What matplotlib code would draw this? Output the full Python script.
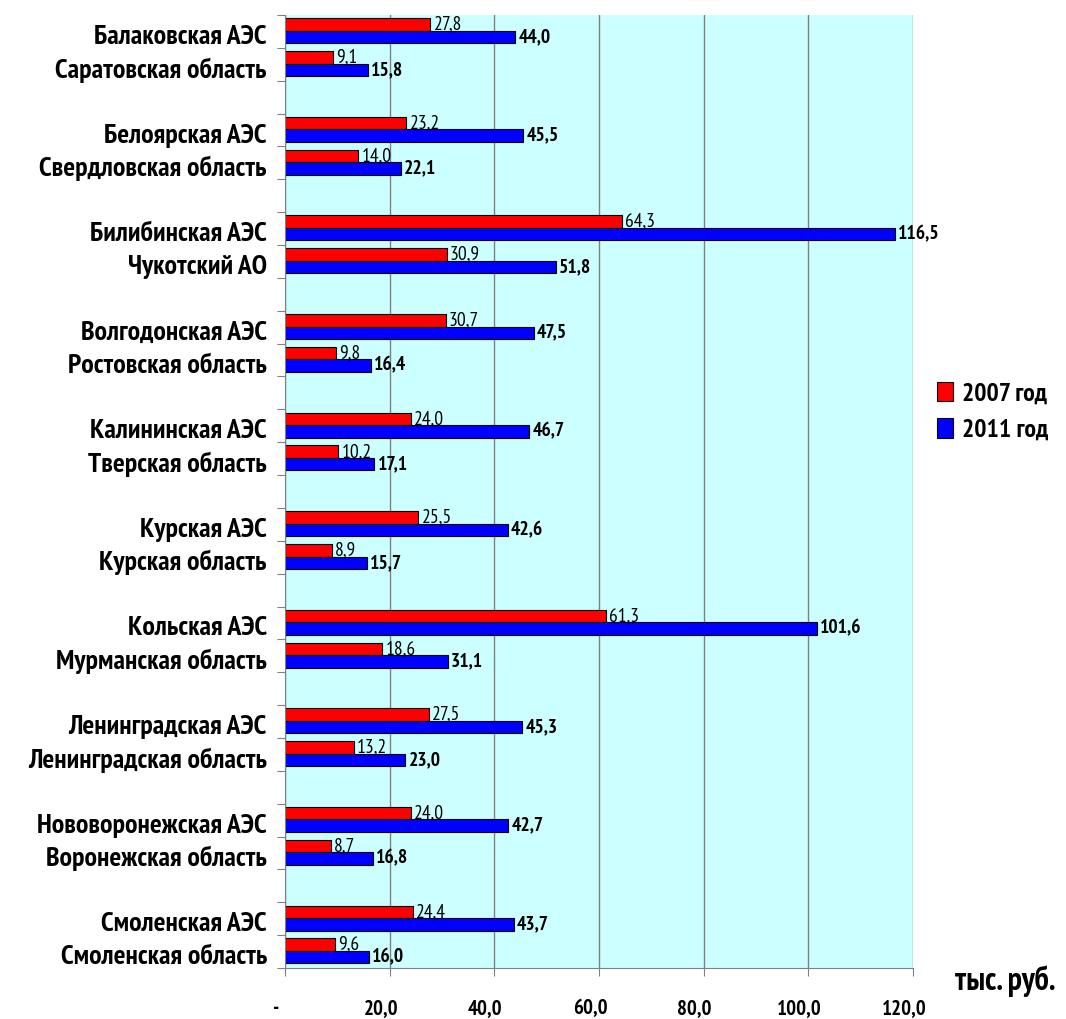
import matplotlib
matplotlib.use("Agg")
import matplotlib.pyplot as plt
import matplotlib.transforms as mtransforms
from matplotlib.patches import Patch
from matplotlib import font_manager

names = {f.name for f in font_manager.fontManager.ttflist}
FAM = ['DejaVu Sans']
for cand in ['PT Sans Narrow', 'Roboto Condensed', 'Open Sans Condensed', 'Liberation Sans Narrow']:
    if cand in names:
        FAM = [cand, 'DejaVu Sans']
        break
plt.rcParams['font.family'] = FAM

categories = [
    "Балаковская АЭС", "Саратовская область",
    "Белоярская АЭС", "Свердловская область",
    "Билибинская АЭС", "Чукотский АО",
    "Волгодонская АЭС", "Ростовская область",
    "Калининская АЭС", "Тверская область",
    "Курская АЭС", "Курская область",
    "Кольская АЭС", "Мурманская область",
    "Ленинградская АЭС", "Ленинградская область",
    "Нововоронежская АЭС", "Воронежская область",
    "Смоленская АЭС", "Смоленская область",
]
values_2007 = [27.8, 9.1, 23.2, 14.0, 64.3, 30.9, 30.7, 9.8, 24.0, 10.2,
               25.5, 8.9, 61.3, 18.6, 27.5, 13.2, 24.0, 8.7, 24.4, 9.6]
values_2011 = [44.0, 15.8, 45.5, 22.1, 116.5, 51.8, 47.5, 16.4, 46.7, 17.1,
               42.6, 15.7, 101.6, 31.1, 45.3, 23.0, 42.7, 16.8, 43.7, 16.0]
series_names = ["2007 год", "2011 год"]
x_ticks = [0, 20, 40, 60, 80, 100, 120]
x_tick_labels = ["-", "20,0", "40,0", "60,0", "80,0", "100,0", "120,0"]
unit_label = "тыс. руб."

def fmt(v):
    return f"{v:.1f}".replace(".", ",")

# slot positions: pairs separated by an empty slot
pos = []
for i in range(len(categories)):
    g, k = divmod(i, 2)
    pos.append(g * 3 + k)
n_slots = (len(categories) // 2) * 3 - 1

fig = plt.figure(figsize=(10.66, 10.19), dpi=100)
ax = fig.add_axes([285 / 1066, 1 - 968 / 1019, (913 - 285) / 1066, (968 - 15) / 1019])
ax.set_facecolor('#CCFFFF')

h = 0.38
red_y = [p - 0.21 for p in pos]
blue_y = [p + 0.17 for p in pos]
ax.barh(red_y, values_2007, height=h, color='#FF0000', edgecolor='black', linewidth=0.8, zorder=3, label=series_names[0])
ax.barh(blue_y, values_2011, height=h, color='#0000FF', edgecolor='black', linewidth=0.8, zorder=3, label=series_names[1])

for y, v in zip(red_y, values_2007):
    ax.text(v + 0.6, y, fmt(v), va='center', ha='left', fontsize=14, zorder=4)
for y, v in zip(blue_y, values_2011):
    ax.text(v + 0.6, y, fmt(v), va='center', ha='left', fontsize=14, fontweight='bold', zorder=4)

ax.set_xlim(0, 120)
ax.set_ylim(n_slots - 0.5, -0.5)

ax.set_xticks(x_ticks)
ax.set_xticklabels(x_tick_labels, fontsize=15, fontweight='bold')
ax.tick_params(axis='x', length=6, color='#808080', pad=16)
ax.grid(axis='x', color='#808080', linewidth=1, zorder=1)
shift_x = mtransforms.ScaledTranslation(-9 / 100, 0, fig.dpi_scale_trans)
for lab in ax.get_xticklabels():
    lab.set_transform(lab.get_transform() + shift_x)

ax.set_yticks([s - 0.5 for s in range(n_slots + 1)])
ax.set_yticklabels([])
ax.tick_params(axis='y', length=6, color='#808080')
ax.set_yticks(pos, minor=True)
ax.set_yticklabels(categories, minor=True, fontsize=20, fontweight='bold')
ax.tick_params(axis='y', which='minor', length=0, pad=13)
shift_y = mtransforms.ScaledTranslation(0, -3 / 100, fig.dpi_scale_trans)
for lab in ax.get_yticklabels(minor=True):
    lab.set_transform(lab.get_transform() + shift_y)

for s in ['top', 'right']:
    ax.spines[s].set_visible(False)
ax.spines['left'].set_color('#808080')
ax.spines['bottom'].set_color('#808080')
ax.spines['left'].set_zorder(5)

fig.text(1005 / 1066, 1 - 981 / 1019, unit_label, fontsize=23, fontweight='bold', ha='center', va='center')

handles = [Patch(facecolor='#FF0000', edgecolor='black', linewidth=0.8),
           Patch(facecolor='#0000FF', edgecolor='black', linewidth=0.8)]
fig.legend(handles, series_names, loc='center left', bbox_to_anchor=(914 / 1066, 1 - 412 / 1019),
           frameon=False, prop={'size': 18.5, 'weight': 'bold'}, handlelength=0.6, handleheight=0.8,
           handletextpad=0.35, labelspacing=0.5)

fig.savefig('out.png', dpi=100)
